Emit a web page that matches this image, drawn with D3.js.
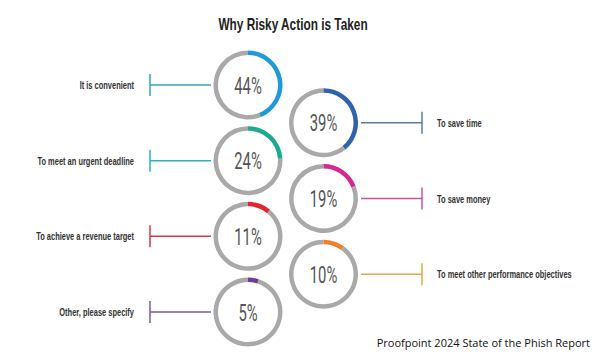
<!DOCTYPE html>
<html>
<head>
<meta charset="utf-8">
<script src="https://cdn.jsdelivr.net/npm/d3@7"></script>
<style>
  html, body { margin: 0; padding: 0; background: #fff; }
  svg { display: block; }
</style>
</head>
<body>
<svg id="chart" width="600" height="358"></svg>
<script>
// ---- data ----
const title = "Why Risky Action is Taken";
const source = "Proofpoint 2024 State of the Phish Report";

const leftLabels = ["It is convenient", "To meet an urgent deadline", "To achieve a revenue target", "Other, please specify"];
const leftValues = [44, 24, 11, 5];

const rightLabels = ["To save time", "To save money", "To meet other performance objectives"];
const rightValues = [39, 19, 10];

// ---- styles ----
const leftArcColors = ["#1e9bd7", "#1aab90", "#e3262f", "#6b3e91"];
const leftLineColors = ["#3aa0b8", "#2db3b3", "#d4394a", "#7b5a9c"];
const rightArcColors = ["#2f63ad", "#d22a8e", "#f07f2c"];
const rightLineColors = ["#5a7c9c", "#c5559f", "#e9a545"];
const ringGray = "#a9a9a9";

const svg = d3.select("#chart");

// row positions: half-row slots, left column on even, right column on odd
const slot = d3.scaleLinear().domain([0, 6]).range([85, 312]);
const pct = d3.scaleLinear().domain([0, 100]).range([0, 2 * Math.PI]);

const R = 34.5, r = 30;
const arc = d3.arc().innerRadius(r).outerRadius(R);

const leftCx = 248, rightCx = 323.5;

function condensed(sel, sx) {
  sel.each(function () {
    const t = d3.select(this);
    const x = +t.attr("data-x"), y = +t.attr("data-y");
    t.attr("x", 0).attr("y", 0)
     .attr("transform", `translate(${x},${y}) scale(${sx},1)`);
  });
}

function ring(g, cx, cy, v, color) {
  const grp = g.append("g").attr("transform", `translate(${cx},${cy})`);
  grp.append("path")
    .attr("d", arc({ startAngle: pct(v), endAngle: 2 * Math.PI }))
    .attr("fill", ringGray);
  grp.append("path")
    .attr("d", arc({ startAngle: 0, endAngle: pct(v) }))
    .attr("fill", color);
  const t = g.append("text")
    .attr("data-x", cx).attr("data-y", cy + 8.5)
    .attr("text-anchor", "middle")
    .attr("font-family", "Roboto, 'Liberation Sans', sans-serif")
    .attr("font-weight", 400)
    .attr("font-size", 23.5)
    .attr("fill", "#555")
    .text(v + "%");
  condensed(t, 0.63);
}

const g = svg.append("g");

// title
condensed(g.append("text")
  .attr("data-x", 293).attr("data-y", 30)
  .attr("text-anchor", "middle")
  .attr("font-family", "'Liberation Sans', Arial, sans-serif")
  .attr("font-weight", 700)
  .attr("font-size", 16)
  .attr("fill", "#222")
  .text(title), 0.74);

// left column
leftValues.forEach((v, i) => {
  const cy = slot(i * 2);
  ring(g, leftCx, cy, v, leftArcColors[i]);
  const lc = leftLineColors[i];
  g.append("line").attr("x1", 150).attr("x2", leftCx - R - 2.5)
    .attr("y1", cy).attr("y2", cy).attr("stroke", lc).attr("stroke-width", 1.5);
  g.append("line").attr("x1", 150).attr("x2", 150)
    .attr("y1", cy - 11).attr("y2", cy + 11).attr("stroke", lc).attr("stroke-width", 1.5);
  condensed(g.append("text")
    .attr("data-x", 134).attr("data-y", cy + 4)
    .attr("text-anchor", "end")
    .attr("font-family", "'Liberation Sans', Arial, sans-serif")
    .attr("font-weight", 700)
    .attr("font-size", 11)
    .attr("fill", "#333")
    .text(leftLabels[i]), 0.68);
});

// right column
rightValues.forEach((v, i) => {
  const cy = slot(i * 2 + 1);
  ring(g, rightCx, cy, v, rightArcColors[i]);
  const lc = rightLineColors[i];
  g.append("line").attr("x1", rightCx + R + 3).attr("x2", 422)
    .attr("y1", cy).attr("y2", cy).attr("stroke", lc).attr("stroke-width", 1.5);
  g.append("line").attr("x1", 422).attr("x2", 422)
    .attr("y1", cy - 11).attr("y2", cy + 11).attr("stroke", lc).attr("stroke-width", 1.5);
  condensed(g.append("text")
    .attr("data-x", 437).attr("data-y", cy + 4)
    .attr("text-anchor", "start")
    .attr("font-family", "'Liberation Sans', Arial, sans-serif")
    .attr("font-weight", 700)
    .attr("font-size", 11)
    .attr("fill", "#333")
    .text(rightLabels[i]), 0.68);
});

// source
g.append("text")
  .attr("x", 590).attr("y", 347)
  .attr("text-anchor", "end")
  .attr("font-family", "'Open Sans', sans-serif")
  .attr("font-size", 11)
  .attr("fill", "#111")
  .text(source);
</script>
</body>
</html>
